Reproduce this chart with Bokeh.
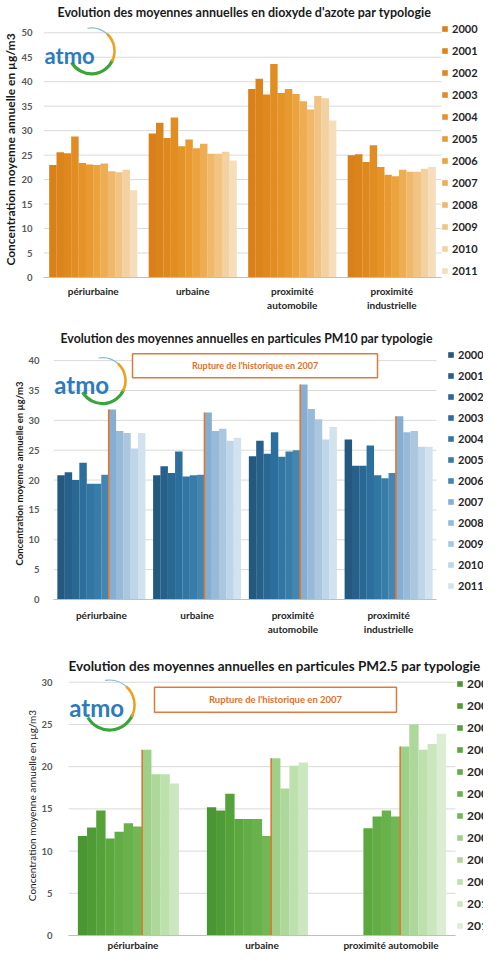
import numpy as np
from bokeh.plotting import figure
from bokeh.models import (ColumnDataSource, Range1d, Legend, LegendItem, Label,
                          SingleIntervalTicker, FixedTicker)
from bokeh.transform import dodge
from bokeh.embed import file_html
from bokeh.resources import INLINE

FONT = "Lato"
NAN = float("nan")

years = ["2000", "2001", "2002", "2003", "2004", "2005",
         "2006", "2007", "2008", "2009", "2010", "2011"]

# ---- Chart 1 : NO2 ----
no2_title = "Evolution des moyennes annuelles en dioxyde d'azote par typologie"
no2_categories = ["périurbaine", "urbaine", "proximité\nautomobile", "proximité\nindustrielle"]
no2_periurbaine = [23.0, 25.6, 25.4, 28.8, 23.4, 23.1, 23.0, 23.3, 21.7, 21.5, 22.0, 17.8]
no2_urbaine = [29.4, 31.6, 28.5, 32.7, 26.8, 28.2, 26.4, 27.3, 25.3, 25.3, 25.7, 23.9]
no2_automobile = [38.5, 40.6, 37.4, 43.6, 37.7, 38.5, 37.5, 36.0, 34.3, 37.1, 36.6, 32.1]
no2_industrielle = [25.0, 25.2, 23.6, 27.0, 22.6, 21.0, 20.7, 22.0, 21.6, 21.6, 22.2, 22.6]
no2_colors = ["#d98019", "#dc841c", "#df881e", "#e28d22", "#e59327", "#e89a30",
              "#eba33e", "#eead52", "#f0b86a", "#f2c484", "#f4d1a0", "#f6ddbb"]
no2_tick_max = 50

# ---- Chart 2 : PM10 ----
pm10_title = "Evolution des moyennes annuelles en particules PM10 par typologie"
pm10_categories = ["périurbaine", "urbaine", "proximité\nautomobile", "proximité\nindustrielle"]
pm10_periurbaine = [20.8, 21.3, 20.0, 22.9, 19.4, 19.4, 20.9, 31.8, 28.2, 27.9, 25.3, 27.9]
pm10_urbaine = [20.8, 22.3, 21.2, 24.8, 20.6, 20.8, 20.9, 31.3, 28.2, 28.6, 26.6, 27.1]
pm10_automobile = [24.0, 26.6, 24.4, 28.0, 23.9, 24.8, 25.0, 36.0, 31.9, 30.2, 26.8, 28.9]
pm10_industrielle = [26.8, 22.4, 22.4, 25.8, 20.8, 20.3, 21.2, 30.7, 28.0, 28.2, 25.6, 25.6]
pm10_colors = ["#24587f", "#27608a", "#2a6894", "#2d6f9c", "#3276a3", "#387daa",
               "#4386b1", "#86aed2", "#98bad9", "#abc7e0", "#bfd5e8", "#d2e2ef"]
pm10_tick_max = 40

# ---- Chart 3 : PM2.5 ----
pm25_title = "Evolution des moyennes annuelles en particules PM2.5 par typologie"
pm25_categories = ["périurbaine", "urbaine", "proximité automobile"]
pm25_periurbaine = [11.8, 12.8, 14.8, 11.5, 12.3, 13.3, 12.9, 22.0, 19.1, 19.1, 18.0, NAN]
pm25_urbaine = [15.2, 14.8, 16.8, 13.8, 13.8, 13.8, 11.8, 21.0, 17.4, 20.1, 20.5, NAN]
pm25_automobile = [NAN, NAN, NAN, 12.7, 14.1, 14.8, 14.1, 22.4, 25.0, 22.0, 22.7, 23.9]
pm25_colors = ["#4a9632", "#4f9c36", "#55a23a", "#5ba83f", "#62ad45", "#69b24b",
               "#71b753", "#9ed08a", "#aed89b", "#bde0ad", "#cce7c0", "#dbeed3"]
pm25_tick_max = 30

ylabel_text = "Concentration moyenne annuelle en µg/m3"
rupture_text = "Rupture de l'historique en 2007"
W = 483


def build(title, title_size, title_offset, cats, groups, colors, w, y_end, tick_max,
          b_left, cat_w, b_top, fh, b_bottom,
          ylabel_size, ylabel_style, tick_standoff, cat_standoff,
          leg_dx, leg_dy, leg_font, leg_label_h, leg_spacing,
          logo, box=None, break_line=False):
    n = len(cats)
    fw = W - b_left                    # frame reaches the right edge: legend lives inside it
    x_end = n * fw / cat_w             # category area = first n units, legend beyond
    p = figure(frame_width=fw, frame_height=fh, x_range=Range1d(0, x_end),
               y_range=Range1d(0, y_end), output_backend="svg", toolbar_location=None,
               min_border_left=b_left, min_border_right=0,
               min_border_top=b_top, min_border_bottom=b_bottom, title=title)
    p.background_fill_color = "white"
    p.border_fill_color = "white"
    p.outline_line_color = None

    p.title.text_font = FONT
    p.title.text_font_size = title_size
    p.title.text_font_style = "bold"
    p.title.text_color = "#1a1a1a"
    p.title.align = "left"
    p.title.offset = title_offset
    p.title.standoff = 4

    centers = list(np.arange(n) + 0.5)
    data = {"xc": centers}
    for i, yr in enumerate(years):
        data["y" + yr] = np.array([g[i] for g in groups], dtype=float)
    src = ColumnDataSource(data)

    # horizontal grid lines limited to the category area
    gy = np.arange(0, tick_max + 1, 5)
    p.segment(x0=0, x1=n, y0=gy, y1=gy, line_color="#dadada", line_width=1, level="underlay")

    items = []
    for i, yr in enumerate(years):
        r = p.vbar(x=dodge("xc", (i - 5.5) * w), top="y" + yr,
                   width=w * 1.02, source=src, fill_color=colors[i], line_color=None)
        items.append(LegendItem(label=yr, renderers=[r]))

    if break_line:
        p.segment(x0=dodge("xc", 1.0 * w), y0=0, x1=dodge("xc", 1.0 * w), y1="y2007",
                  source=src, line_color="#e0782f", line_width=1.6)

    # axes
    p.yaxis.ticker = SingleIntervalTicker(interval=5)
    p.yaxis.axis_line_color = None
    p.yaxis.major_tick_line_color = None
    p.yaxis.major_tick_out = 0
    p.yaxis.major_tick_in = 0
    p.yaxis.minor_tick_line_color = None
    p.yaxis.minor_tick_out = 0
    p.yaxis.major_label_standoff = tick_standoff
    p.yaxis.major_label_text_font = FONT
    p.yaxis.major_label_text_font_style = "bold"
    p.yaxis.major_label_text_font_size = "9.5px"
    p.yaxis.major_label_text_color = "#595959"
    p.yaxis.axis_label = ylabel_text
    p.yaxis.axis_label_text_font = FONT
    p.yaxis.axis_label_text_font_size = ylabel_size
    p.yaxis.axis_label_text_font_style = ylabel_style
    p.yaxis.axis_label_text_color = "#1a1a1a"
    p.yaxis.axis_label_standoff = 0

    p.xaxis.ticker = FixedTicker(ticks=centers)
    p.xaxis.major_label_overrides = {c: lab for c, lab in zip(centers, cats)}
    p.xaxis.bounds = (0, n)
    p.xaxis.axis_line_color = "#bfbfbf"
    p.xaxis.major_tick_line_color = None
    p.xaxis.major_tick_out = 0
    p.xaxis.major_tick_in = 0
    p.xaxis.minor_tick_line_color = None
    p.xaxis.minor_tick_out = 0
    p.xaxis.major_label_standoff = cat_standoff
    p.xaxis.major_label_text_font = FONT
    p.xaxis.major_label_text_font_style = "bold"
    p.xaxis.major_label_text_font_size = "10px"
    p.xaxis.major_label_text_color = "#262626"

    p.xgrid.grid_line_color = None
    p.ygrid.grid_line_color = None

    # logo (x given as fraction of the category area)
    lx, ly_base, lsize, acx, acy, ar = logo
    for a0, a1, col, lw in [(210, 338, "#3aa53a", 3.2), (-28, 48, "#f0a020", 2.6),
                            (48, 100, "#7fb8de", 1.2)]:
        p.arc(x=[acx * n], y=[acy], radius=ar, radius_units="screen",
              start_angle=np.radians(a0), end_angle=np.radians(a1), direction="anticlock",
              line_color=col, line_width=lw)
    p.add_layout(Label(x=lx * n, y=ly_base, text="atmo",
                       text_font=FONT, text_font_style="bold", text_font_size=lsize,
                       text_color="#2b7bbd", text_baseline="alphabetic", text_align="left"))

    if box is not None:
        bl, br, bt, bb, fsize = box
        p.quad(left=[bl * n], right=[br * n], top=[bt], bottom=[bb],
               fill_color="white", line_color="#e07a3a", line_width=1.5)
        p.add_layout(Label(x=(bl + br) / 2 * n, y=(bt + bb) / 2,
                           text=rupture_text, text_font=FONT, text_font_style="bold",
                           text_font_size=fsize, text_color="#e0702a",
                           text_align="center", text_baseline="middle"))

    legend = Legend(items=items, location=(cat_w + leg_dx, leg_dy),
                    glyph_width=7, glyph_height=7, label_height=leg_label_h,
                    spacing=leg_spacing, padding=0, margin=0, label_standoff=4,
                    border_line_color=None, background_fill_alpha=0,
                    label_text_font=FONT, label_text_font_style="bold",
                    label_text_font_size=leg_font, label_text_color="#262626")
    p.add_layout(legend)
    return p


p1 = build(no2_title, "12.5px", 14, no2_categories,
           [no2_periurbaine, no2_urbaine, no2_automobile, no2_industrielle],
           no2_colors, 0.0737, 52.3, no2_tick_max,
           41, 398, 21, 256, 41,
           "12px", "bold", 11, 7,
           0, 0, "11px", 14, 8,
           (0.0025, 45.3, "22px", 0.1206, 46.3, 23))

p2 = build(pm10_title, "12.3px", 7, pm10_categories,
           [pm10_periurbaine, pm10_urbaine, pm10_automobile, pm10_industrielle],
           pm10_colors, 0.0765, 42.2, pm10_tick_max,
           53, 383, 29, 252, 39,
           "9.5px", "bold", 14, 9,
           11, 7, "11px", 14, 7,
           (0.002, 36.0, "24px", 0.128, 36.65, 23),
           box=(0.2063, 0.846, 41.17, 37.15, "9px"), break_line=True)

p3 = build(pm25_title, "13.5px", 0, pm25_categories,
           [pm25_periurbaine, pm25_urbaine, pm25_automobile],
           pm25_colors, 0.0711, 30.8, pm25_tick_max,
           68, 387, 37, 260, 16,
           "10px", "normal", 16, 3,
           1, 2, "12px", 15, 7,
           (0.002, 27.05, "24px", 0.106, 27.3, 25),
           box=(0.2222, 0.8475, 29.42, 26.45, "9.5px"), break_line=True)

# three independent roots, stacked on the page (no shared frame alignment)
open("out.html", "w").write(file_html([p1, p2, p3], INLINE))
